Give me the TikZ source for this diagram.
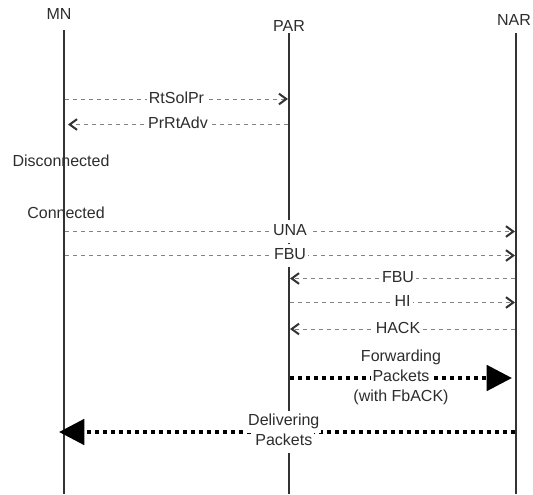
\documentclass[tikz,border=0pt]{standalone}
\usepackage{fontspec}
\setmainfont{Liberation Sans}
\usepackage{xcolor}
\usetikzlibrary{arrows.meta, positioning}
\definecolor{lifegray}{RGB}{51, 51, 51}
\definecolor{msggray}{RGB}{130, 130, 130}
\definecolor{textgray}{RGB}{45, 45, 45}

% white background behind one line of a label
\newcommand{\linebg}[1]{{\setlength{\fboxsep}{1pt}\colorbox{white}{\strut #1}}}

\begin{document}
\begin{tikzpicture}[
  x=0.75pt, y=-0.75pt,
  font=\fontsize{12}{14.25}\selectfont,
  text=textgray,
  entity/.style={
    inner sep=0pt,
    align=center,
  },
  lifeline/.style={
    draw=lifegray,
    line width=1.5pt,
  },
  message/.style={
    draw=msggray,
    line width=0.75pt,
    dash pattern=on 3pt off 3pt,
    -{Straight Barb[length=5.5pt, width=8pt, line width=1.5pt, color=lifegray]},
  },
  msglabel/.style={
    fill=white,
    inner xsep=1.5pt,
    inner ysep=2.6pt,
    text height=9pt,
    text depth=3pt,
  },
  packets/.style={
    draw=black,
    line width=3pt,
    dash pattern=on 3pt off 3pt,
    -{Triangle[length=19pt, width=19pt]},
  },
  pktlabel/.style={
    align=center,
    inner sep=0pt,
  },
  state/.style={
    inner sep=0pt,
  }
]
  \useasboundingbox (0,0) rectangle (533,494);

  % MN
  \node[entity] (mn) at (59,14) {MN};
  \coordinate (mn-top) at (64,30);
  \coordinate (mn-end) at (64,494);
  \draw[lifeline] (mn-top) -- (mn-end);

  % PAR
  \node[entity] (par) at (289,26) {PAR};
  \coordinate (par-top) at (289,33);
  \coordinate (par-end) at (289,494);
  \draw[lifeline] (par-top) -- (par-end);

  % NAR
  \node[entity] (nar) at (514,20) {NAR};
  \coordinate (nar-top) at (516,33);
  \coordinate (nar-end) at (516,494);
  \draw[lifeline] (nar-top) -- (nar-end);

  % RtSolPr
  \coordinate (mn-rtsol) at (65,99);
  \coordinate (par-rtsol) at (288,99);
  \draw[message] (mn-rtsol) -- node[msglabel] {RtSolPr} (par-rtsol);

  % PrRtAdv
  \coordinate (par-prrt) at (288,124.5);
  \coordinate (mn-prrt) at (68,124.5);
  \draw[message] (par-prrt) -- node[msglabel] {PrRtAdv} (mn-prrt);

  % MN state
  \node[state] (disc) at (61,161) {Disconnected};
  \node[state] (conn) at (66,213) {Connected};

  % UNA
  \coordinate (mn-una) at (65,231.5);
  \coordinate (nar-una) at (515,231.5);
  \draw[message] (mn-una) -- node[msglabel] {UNA} (nar-una);

  % FBU, MN to NAR
  \coordinate (mn-fbu) at (65,255.5);
  \coordinate (nar-fbu) at (515,255.5);
  \draw[message] (mn-fbu) -- node[msglabel] {FBU} (nar-fbu);

  % FBU, NAR to PAR
  \coordinate (nar-fbu2) at (515,278.5);
  \coordinate (par-fbu2) at (290,278.5);
  \draw[message] (nar-fbu2) -- node[msglabel, pos=0.52] {FBU} (par-fbu2);

  % HI
  \coordinate (par-hi) at (290,302.5);
  \coordinate (nar-hi) at (515,302.5);
  \draw[message] (par-hi) -- node[msglabel] {HI} (nar-hi);

  % HACK
  \coordinate (nar-hack) at (515,329);
  \coordinate (par-hack) at (290,329);
  \draw[message] (nar-hack) -- node[msglabel, pos=0.52] {HACK} (par-hack);

  % Forwarding Packets
  \coordinate (par-fwd) at (290,378);
  \coordinate (nar-fwd) at (512,378);
  \draw[packets] (par-fwd) -- node[pktlabel] {\linebg{Forwarding}\\[-2.3pt]\linebg{Packets}\\[-2.3pt]\linebg{(with FbACK)}} (nar-fwd);

  % Delivering Packets
  \coordinate (nar-dlv) at (515,432);
  \coordinate (mn-dlv) at (59,432);
  \draw[packets] (nar-dlv) -- node[pktlabel, pos=0.507] {\linebg{Delivering}\\[-2.3pt]\linebg{Packets}} (mn-dlv);

\end{tikzpicture}
\end{document}
